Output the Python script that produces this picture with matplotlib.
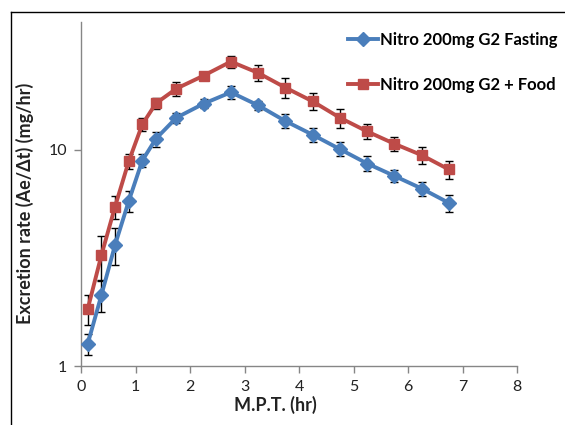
import matplotlib
matplotlib.use("Agg")
import matplotlib.pyplot as plt
from matplotlib.lines import Line2D
from matplotlib.ticker import FixedLocator, NullLocator, FixedFormatter

# mid-point times (hr)
mpt = [0.125, 0.375, 0.625, 0.875, 1.125, 1.375, 1.75, 2.25, 2.75,
       3.25, 3.75, 4.25, 4.75, 5.25, 5.75, 6.25, 6.75]

fasting = [1.27, 2.13, 3.63, 5.78, 8.92, 11.25, 14.07, 16.34, 18.45,
           16.05, 13.58, 11.74, 10.07, 8.64, 7.57, 6.62, 5.68]
fasting_err = [0.14, 0.35, 0.70, 0.65, 0.60, 0.90, 0.80, 0.80, 1.30,
               0.80, 1.00, 0.90, 0.75, 0.70, 0.50, 0.48, 0.50]

food = [1.84, 3.26, 5.46, 8.83, 13.11, 16.40, 19.18, 22.03, 25.58,
        22.68, 19.39, 16.75, 14.07, 12.16, 10.66, 9.45, 8.11]
food_err = [0.30, 0.75, 0.67, 0.70, 0.85, 0.90, 1.45, 0.50, 1.60,
            1.90, 2.10, 1.50, 1.40, 1.00, 0.83, 0.87, 0.80]

labels = ["Nitro 200mg G2 Fasting", "Nitro 200mg G2 + Food"]

BLUE = "#4A7EBB"
RED = "#BE4B48"
GREY = "#868686"

plt.rcParams["font.family"] = ["Lato", "DejaVu Sans"]

W, H = 565, 425
fig = plt.figure(figsize=(W / 100, H / 100), dpi=100)
ax = fig.add_axes([81 / W, 1 - 366 / H, (517 - 81) / W, (366 - 22) / H])

ax.errorbar(mpt, food, yerr=food_err, color=RED, lw=2.8, marker="s",
            ms=7, mec=RED, ecolor="black", elinewidth=1, capsize=3,
            capthick=1, zorder=3, label=labels[1])
ax.errorbar(mpt, fasting, yerr=fasting_err, color=BLUE, lw=2.8, marker="D",
            ms=7, mec=BLUE, ecolor="black", elinewidth=1, capsize=3,
            capthick=1, zorder=4, label=labels[0])

ax.set_yscale("log")
ax.set_ylim(1, 39)
ax.set_xlim(0, 8)
ax.yaxis.set_major_locator(FixedLocator([1, 10]))
ax.yaxis.set_major_formatter(FixedFormatter(["1", "10"]))
ax.yaxis.set_minor_locator(NullLocator())
ax.set_xticks(range(0, 9))

for side in ["top", "right"]:
    ax.spines[side].set_visible(False)
for side in ["left", "bottom"]:
    ax.spines[side].set_color(GREY)
    ax.spines[side].set_linewidth(1)
ax.tick_params(axis="both", direction="out", length=5, width=1, color=GREY,
               labelsize=11.5, labelcolor="#222222", pad=5)

ax.set_xlabel("M.P.T. (hr)", fontsize=13, fontweight="bold", color="#222222")
ax.set_ylabel("Excretion rate (Ae/\u0394t) (mg/hr)", fontsize=13,
              fontweight="bold", color="#222222")
ax.xaxis.set_label_coords(0.445, -0.088)
ax.yaxis.set_label_coords(-0.108, 0.474)

handles = [
    Line2D([], [], color=BLUE, lw=2.8, marker="D", ms=7),
    Line2D([], [], color=RED, lw=2.8, marker="s", ms=7),
]
fig.legend(handles, labels, loc="upper left",
           bbox_to_anchor=(348 / W, 1 - 32 / H), frameon=False,
           prop={"weight": "bold", "size": 12}, handlelength=1.8,
           handletextpad=0.15, labelspacing=1.75, borderaxespad=0,
           borderpad=0)

# outer frame (only left and top edges visible in the crop)
fig.add_artist(Line2D([11 / W, 11 / W], [0, 1 - 12 / H], color="black",
                      lw=1, transform=fig.transFigure))
fig.add_artist(Line2D([11 / W, 1], [1 - 12 / H, 1 - 12 / H], color="black",
                      lw=1, transform=fig.transFigure))

fig.savefig("out.png", dpi=100)
